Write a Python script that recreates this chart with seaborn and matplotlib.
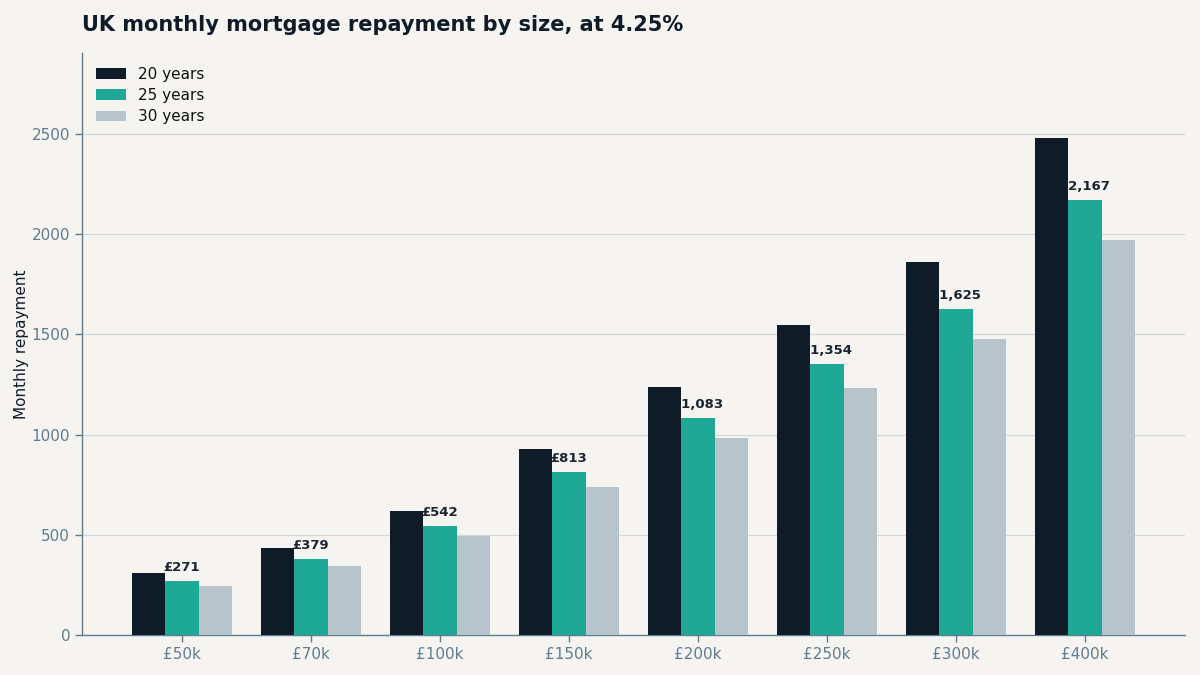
import pandas as pd
import matplotlib
matplotlib.use("Agg")
import matplotlib.pyplot as plt
import seaborn as sns

# =======================
# Data
# =======================
loan_sizes = ["£50k", "£70k", "£100k", "£150k", "£200k", "£250k", "£300k", "£400k"]
terms = ["20 years", "25 years", "30 years"]
pay_20y = [310, 433, 619, 929, 1238, 1548, 1858, 2477]
pay_25y = [271, 379, 542, 813, 1083, 1354, 1625, 2167]
pay_30y = [246, 344, 492, 738, 984, 1230, 1476, 1968]

df = pd.DataFrame({
    "Loan": loan_sizes * 3,
    "Term": [terms[0]] * 8 + [terms[1]] * 8 + [terms[2]] * 8,
    "Monthly repayment": pay_20y + pay_25y + pay_30y,
})

# =======================
# Style
# =======================
bg = "#f5f4f0"
ink = "#0f1b27"
slate = "#5f7d90"
palette = {"20 years": "#0f1b27", "25 years": "#1fa896", "30 years": "#b8c4cb"}

sns.set_theme(style="white")
plt.rcParams["font.family"] = ["DejaVu Sans"]

fig, ax = plt.subplots(figsize=(12, 6.75), dpi=100)
fig.patch.set_facecolor(bg)
ax.set_facecolor(bg)

sns.barplot(data=df, x="Loan", y="Monthly repayment", hue="Term",
            palette=palette, width=0.78, saturation=1, linewidth=0,
            edgecolor="none", ax=ax, zorder=3)

# labels on the 25-year bars (drawn beneath the bars, as in the original)
ax.bar_label(ax.containers[1], labels=[f"£{v:,}" for v in pay_25y],
             padding=5, fontsize=9.5, fontweight="bold", color="#1a2530", zorder=2)

ax.set_xlim(-0.775, len(loan_sizes) - 1 + 0.775)
ax.set_ylim(0, 2900)
ax.set_yticks([0, 500, 1000, 1500, 2000, 2500])
ax.yaxis.grid(True, color="#d0d8de", linewidth=0.9, zorder=0)
ax.set_axisbelow(True)

for s in ["top", "right"]:
    ax.spines[s].set_visible(False)
for s in ["left", "bottom"]:
    ax.spines[s].set_color(slate)
    ax.spines[s].set_linewidth(1)

ax.tick_params(axis="both", colors=slate, labelsize=11, length=5, width=1,
               bottom=True, left=True)
ax.set_xlabel("")
ax.set_ylabel("Monthly repayment", fontsize=11, color=ink, labelpad=2)

leg = ax.legend(title=None, frameon=False, loc="upper left", fontsize=11,
                handlelength=2.0, handleheight=0.7, labelspacing=0.4)
for t in leg.get_texts():
    t.set_color("#111111")

fig.text(0.068, 0.963, "UK monthly mortgage repayment by size, at 4.25%",
         fontsize=15, fontweight="bold", color=ink, ha="left", va="center")

plt.subplots_adjust(left=0.0683, right=0.9875, top=0.921, bottom=0.059)
fig.savefig("out.png", dpi=100, facecolor=bg)
